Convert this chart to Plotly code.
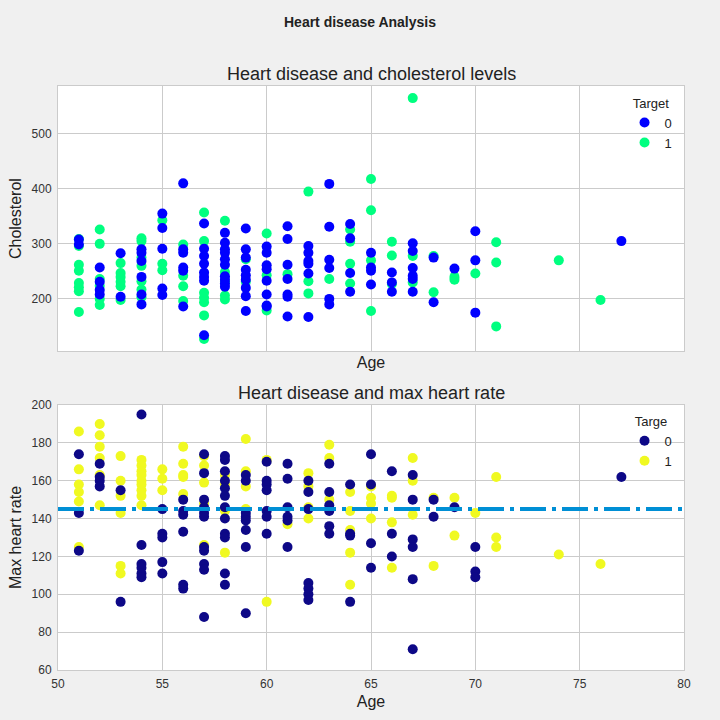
import plotly.graph_objects as go

# values, grouped by age
chol_target0 = {
    51: [307, 298], 52: [256, 230, 215, 207], 53: [282, 203],
    54: [289, 283, 268, 239, 207, 189], 55: [354, 328, 290, 218, 206],
    56: [409, 289, 283, 256, 250, 185],
    57: [336, 290, 277, 263, 247, 239, 232, 133],
    58: [319, 301, 289, 283, 271, 261, 240, 234, 227, 221],
    59: [327, 289, 274, 252, 242, 234, 219, 204, 177],
    60: [294, 283, 260, 253, 232, 207, 187, 185],
    61: [331, 308, 261, 235, 207, 203, 167],
    62: [295, 283, 268, 263, 245, 166], 63: [408, 330, 270, 255, 199, 189],
    64: [335, 309, 246, 212], 65: [283, 256, 250, 225], 66: [247, 229, 212],
    67: [300, 286, 255, 241, 235, 212], 68: [274, 193], 69: [254],
    70: [322, 269, 174], 77: [304],
}
chol_target1 = {
    51: [308, 295, 261, 250, 228, 220, 213, 175],
    52: [325, 299, 235, 223, 199, 188], 53: [264, 246, 239, 230, 222, 197],
    54: [309, 304, 274, 259, 231, 216, 202], 55: [342, 263, 251],
    56: [298, 241, 222, 195], 57: [356, 304, 210, 201, 193, 169, 126],
    58: [341, 248, 230, 205, 198], 59: [271, 230], 60: [318, 242, 178],
    61: [244], 62: [394, 231, 209], 63: [235], 64: [325, 303, 263, 227],
    65: [417, 360, 269, 177], 66: [303, 278, 226], 67: [564, 277, 229],
    68: [277, 211], 69: [239, 234], 70: [245], 71: [302, 265, 149],
    74: [269], 76: [197],
}
hr_target0 = {
    51: [174, 143, 123], 52: [169, 162, 160, 157], 53: [155, 96],
    54: [195, 126, 116, 114, 111, 109], 55: [145, 132, 130, 117, 111],
    56: [150, 144, 142, 133, 105, 103],
    57: [174, 164, 150, 146, 143, 141, 125, 123, 116, 113, 88],
    58: [173, 171, 165, 160, 156, 152, 146, 140, 132, 130, 111, 105],
    59: [163, 160, 143, 141, 139, 134, 125, 90],
    60: [170, 160, 158, 155, 144, 141, 132],
    61: [169, 161, 146, 141, 139, 125],
    62: [160, 154, 145, 106, 103, 100, 97],
    63: [169, 154, 147, 144, 136, 132], 64: [158, 132, 131, 96],
    65: [174, 158, 127, 114], 66: [165, 132, 120],
    67: [163, 150, 129, 125, 108, 71], 68: [150, 141], 69: [146],
    70: [125, 112, 109], 77: [162],
}
hr_target1 = {
    51: [186, 166, 158, 154, 149, 125], 52: [190, 184, 178, 172, 163, 147],
    53: [173, 160, 152, 143, 115, 111],
    54: [171, 168, 165, 163, 160, 158, 155, 152, 147],
    55: [166, 161, 155], 56: [178, 169, 163, 162, 153],
    57: [173, 168, 159, 148, 126], 58: [163, 158, 144, 122],
    59: [182, 165, 157, 145], 60: [171, 96], 61: [137],
    62: [164, 157, 146, 140], 63: [179, 172, 150],
    64: [154, 144, 134, 122, 105], 65: [157, 151, 148, 140],
    66: [152, 151, 138, 114], 67: [172, 160, 142], 68: [151, 115],
    69: [151, 131], 70: [143], 71: [162, 130, 125], 74: [121], 76: [116],
}
mean_max_hr = 145


def flatten(d):
    xs, ys = [], []
    for age, vals in d.items():
        for v in vals:
            xs.append(age)
            ys.append(v)
    return xs, ys


FONT = "Liberation Sans, Arial, sans-serif"
GRID = "#cbcbcb"

fig = go.Figure()

# target 1 drawn first so target 0 sits on top, like the original
for d, name, color, xa, ya, leg, rank in [
    (chol_target1, "1", "#00ff80", "x", "y", "legend", 2),
    (chol_target0, "0", "#0000ff", "x", "y", "legend", 1),
    (hr_target1, "1", "#f0f921", "x2", "y2", "legend2", 2),
    (hr_target0, "0", "#0d0887", "x2", "y2", "legend2", 1),
]:
    xs, ys = flatten(d)
    fig.add_trace(go.Scatter(
        x=xs, y=ys, mode="markers", name=name, xaxis=xa, yaxis=ya,
        legend=leg, legendrank=rank,
        marker=dict(color=color, size=10, line=dict(width=0)),
    ))

fig.add_shape(type="line", xref="x2 domain", yref="y2", x0=0, x1=1,
              y0=mean_max_hr, y1=mean_max_hr,
              line=dict(color="#008fd5", width=4, dash="26px,6px,4px,6px"))

axis_common = dict(
    showgrid=True, gridcolor=GRID, gridwidth=1, zeroline=False,
    showline=True, linecolor=GRID, linewidth=1, mirror=True,
    ticks="outside", ticklen=3, tickcolor="rgba(0,0,0,0)",
    tickfont=dict(size=12, color="#333333", family=FONT),
)
title_font = dict(size=16, color="#222222", family=FONT)
legend_font = dict(size=13, family=FONT, color="#222222")

fig.update_layout(
    width=720, height=720,
    paper_bgcolor="#f0f0f0", plot_bgcolor="white",
    margin=dict(l=58, r=36, t=86, b=50),
    font=dict(family=FONT, color="#222222"),
    title=dict(text="<b>Heart disease Analysis</b>", x=0.5, xanchor="center",
               y=0.969, yanchor="middle",
               font=dict(size=14, color="#222222", family=FONT)),
    xaxis=dict(axis_common, range=[50, 80], dtick=5, showticklabels=False,
               ticks="", anchor="y", domain=[0, 1],
               title=dict(text="Age", font=title_font, standoff=5)),
    yaxis=dict(axis_common, range=[104, 586], tickvals=[200, 300, 400, 500],
               anchor="x", domain=[0.546, 1],
               title=dict(text="Cholesterol", font=title_font, standoff=5)),
    xaxis2=dict(axis_common, range=[50, 80], dtick=5, anchor="y2",
                domain=[0, 1],
                title=dict(text="Age", font=title_font, standoff=5)),
    yaxis2=dict(axis_common, range=[60, 200], dtick=20, anchor="x2",
                domain=[0, 0.4538],
                title=dict(text="Max heart rate", font=title_font, standoff=5)),
    legend=dict(x=0.905, y=0.992, xanchor="left", yanchor="top",
                bgcolor="rgba(0,0,0,0)", font=legend_font,
                title=dict(text="Target", font=legend_font, side="top center")),
    legend2=dict(x=0.905, y=0.447, xanchor="left", yanchor="top",
                 bgcolor="rgba(0,0,0,0)", font=legend_font,
                 title=dict(text="Targe", font=legend_font, side="top center")),
    showlegend=True,
)

for text, ypos in [("Heart disease and cholesterol levels", 1.0),
                   ("Heart disease and max heart rate", 0.4538)]:
    fig.add_annotation(text=text, xref="paper", yref="paper", x=0.5, y=ypos,
                       yanchor="bottom", yshift=0, showarrow=False,
                       font=dict(size=18, color="#222222", family=FONT))

# drop the default body margin so the figure sits at the page corner
fig.write_html("out.html", config={"displayModeBar": False},
               post_script="document.body.style.margin='0';")
